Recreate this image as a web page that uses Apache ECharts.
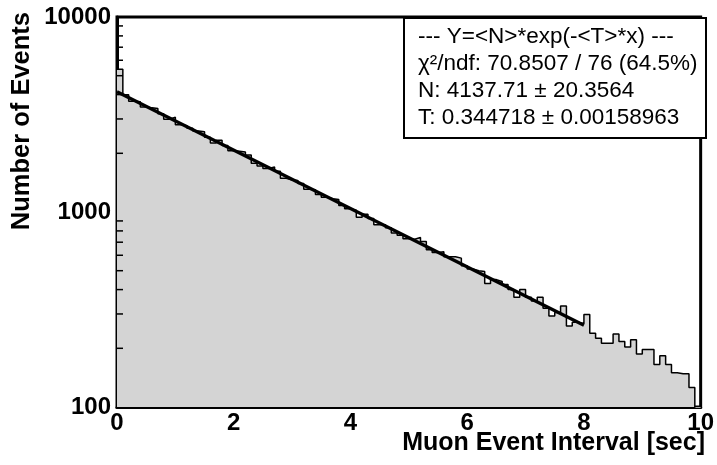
<!DOCTYPE html>
<html>
<head>
<meta charset="utf-8">
<script src="https://cdn.jsdelivr.net/npm/echarts@6/dist/echarts.min.js"></script>
<style>
  html, body { margin: 0; padding: 0; background: #fff; }
  #main { width: 717px; height: 465px; }
</style>
</head>
<body>
<div id="main"></div>
<script>
// histogram: 100 bins of 0.1 sec, counts
var binWidth = 0.1;
var counts = [
  5400, 3990, 3700, 3680, 3460, 3420, 3390, 3190, 2990, 3060,
  2800, 2770, 2690, 2600, 2580, 2420, 2260, 2330, 2190, 2060,
  2050, 2030, 1960, 1780, 1720, 1670, 1700, 1620, 1490, 1460,
  1450, 1400, 1310, 1300, 1230, 1190, 1170, 1160, 1080, 1040,
  1020, 940, 975, 925, 860, 860, 830, 780, 760, 730,
  725, 740, 705, 640, 620, 625, 590, 590, 580, 530,
  510, 500, 495, 430, 450, 440, 425, 400, 365, 400,
  365, 350, 365, 321, 293, 305, 330, 260, 272, 268,
  298, 239, 225, 212, 212, 237, 217, 203, 221, 187,
  197, 197, 165, 183, 165, 150, 148, 148, 126, 85
];

// fitted exponential, drawn between its end points (straight on log axis)
var fitX = [0, 8];
var fitY = [4137.7, 262.5];

var xTicks = [0, 2, 4, 6, 8, 10];
var yTicks = [100, 1000, 10000];
var yMinorTicks = [200, 300, 400, 500, 600, 700, 800, 900,
                   2000, 3000, 4000, 5000, 6000, 7000, 8000, 9000];

var statLines = [
  '--- Y=<N>*exp(-<T>*x) ---',
  'χ²/ndf: 70.8507 / 76 (64.5%)',
  'N: 4137.71 ± 20.3564',
  'T: 0.344718 ± 0.00158963'
];

var chart = echarts.init(document.getElementById('main'));

var histData = [];
for (var i = 0; i < counts.length; i++) {
  histData.push([+(i * binWidth).toFixed(1), counts[i]]);
}
histData.push([xTicks[xTicks.length - 1], counts[counts.length - 1]]);

var fitData = [];
for (var j = 0; j < fitX.length; j++) fitData.push([fitX[j], fitY[j]]);

var labelFont = {
  color: '#000',
  fontFamily: 'Liberation Sans, Arial, sans-serif',
  fontWeight: 'bold',
  fontSize: 24
};

var option = {
  backgroundColor: '#fff',
  animation: false,
  grid: {
    left: 117, right: 12, top: 17, bottom: 58,
    show: true,
    borderColor: '#000',
    borderWidth: 3
  },
  xAxis: {
    type: 'value',
    min: xTicks[0],
    max: xTicks[xTicks.length - 1],
    interval: 2,
    axisLine: { show: true, lineStyle: { color: '#000', width: 3 } },
    axisTick: { show: true, inside: true, length: 11, lineStyle: { color: '#000', width: 1.5 } },
    splitLine: { show: false },
    axisLabel: Object.assign({ margin: 4 }, labelFont)
  },
  yAxis: {
    type: 'log',
    logBase: 10,
    min: yTicks[0],
    max: yTicks[yTicks.length - 1],
    axisLine: { show: true, lineStyle: { color: '#000', width: 3 } },
    axisTick: { show: true, inside: true, length: 12, lineStyle: { color: '#000', width: 1.5 } },
    splitLine: { show: false },
    axisLabel: Object.assign({
      margin: 6,
      formatter: function (v) { return String(Math.round(v)); }
    }, labelFont)
  },
  series: [
    {
      // filled histogram with step outline
      type: 'line',
      step: 'end',
      data: histData,
      symbol: 'none',
      clip: true,
      lineStyle: { color: '#000', width: 1.5 },
      areaStyle: { color: '#d4d4d4', opacity: 1, origin: 'start' },
      z: 2
    },
    {
      // exponential fit
      type: 'line',
      data: fitData,
      symbol: 'none',
      lineStyle: { color: '#000', width: 3.2 },
      z: 3
    },
    {
      // log minor ticks on the y axis
      type: 'custom',
      data: yMinorTicks.map(function (v) { return [0, v]; }),
      renderItem: function (params, api) {
        var p = api.coord([0, api.value(1)]);
        return {
          type: 'line',
          shape: { x1: p[0], y1: p[1], x2: p[0] + 6, y2: p[1] },
          style: { stroke: '#000', lineWidth: 1.5 }
        };
      },
      silent: true,
      z: 4
    }
  ],
  graphic: [
    {
      type: 'text',
      right: 12,
      top: 431,
      style: {
        text: 'Muon Event Interval [sec]',
        font: 'bold 25px "Liberation Sans", Arial, sans-serif',
        fill: '#000'
      }
    },
    {
      type: 'text',
      x: 9,
      y: 12,
      rotation: Math.PI / 2,
      originX: 0, originY: 0,
      style: {
        text: 'Number of Events',
        font: 'bold 25.5px "Liberation Sans", Arial, sans-serif',
        fill: '#000',
        align: 'right',
        verticalAlign: 'top'
      }
    },
    {
      type: 'group',
      left: 403,
      top: 17,
      z: 100,
      children: [
        {
          type: 'rect',
          shape: { x: 0, y: 0, width: 302, height: 120 },
          style: { fill: '#fff', stroke: '#000', lineWidth: 2 }
        },
        {
          type: 'text',
          x: 14,
          y: 5,
          style: {
            text: statLines.join('\n'),
            font: '22.5px "Liberation Sans", Arial, sans-serif',
            lineHeight: 27,
            fill: '#000'
          }
        }
      ]
    }
  ]
};

chart.setOption(option);
</script>
</body>
</html>
